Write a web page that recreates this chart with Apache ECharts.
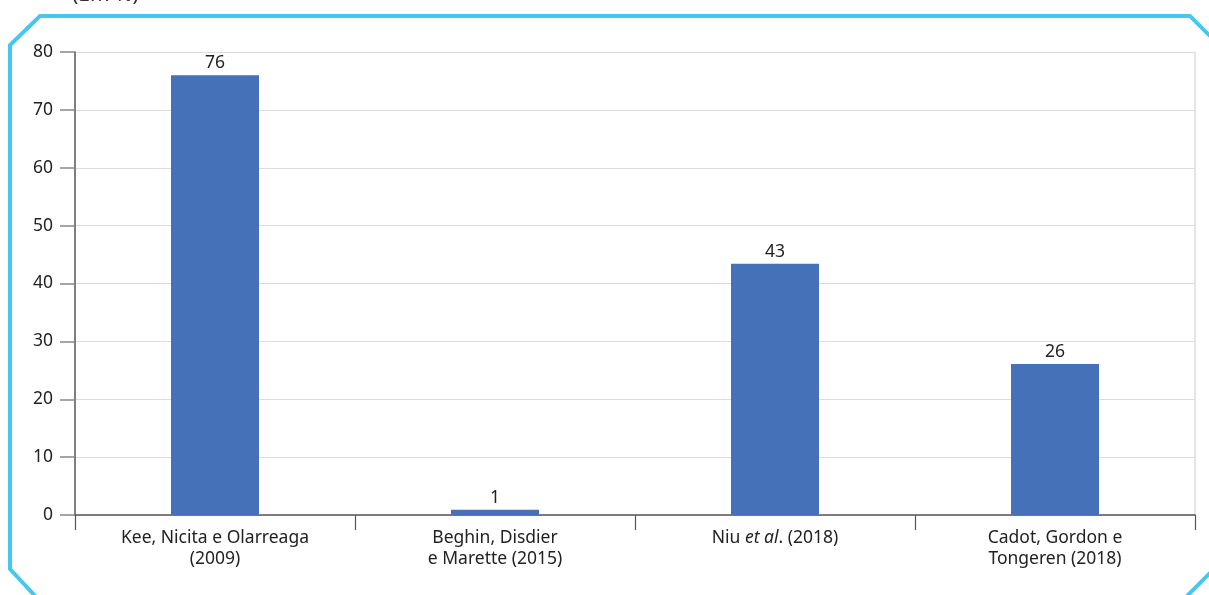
<!DOCTYPE html>
<html><head><meta charset="utf-8">
<script src="https://cdn.jsdelivr.net/npm/echarts@6/dist/echarts.min.js"></script>
<style>html,body{margin:0;padding:0;background:#fff}#c{width:1209px;height:595px}</style>
</head><body><div id="c"></div>
<script>
const categories = ["Kee, Nicita e Olarreaga\n(2009)", "Beghin, Disdier\ne Marette (2015)", "Niu {i|et al}. (2018)", "Cadot, Gordon e\nTongeren (2018)"];
const values = [76, 0.9, 43.4, 26.1];
const yTicks = [0, 10, 20, 30, 40, 50, 60, 70, 80];
const unitLabel = "(Em %)";

const font = "'Noto Sans', 'Open Sans', sans-serif";
const chart = echarts.init(document.getElementById('c'), null, {renderer: 'canvas'});
chart.setOption({
  animation: false,
  textStyle: {fontFamily: font},
  grid: {left: 75, right: 14, top: 52, bottom: 80, containLabel: false},
  xAxis: {
    type: 'category',
    data: categories,
    boundaryGap: true,
    axisLine: {show: true, lineStyle: {color: '#555', width: 1.5}},
    axisTick: {show: true, length: 15, interval: 0, lineStyle: {color: '#555', width: 1.2}},
    axisLabel: {
      interval: 0, margin: 13, color: '#222', fontSize: 17.5, lineHeight: 21, fontFamily: font,
      rich: {i: {fontStyle: 'italic', fontSize: 17.5, color: '#222', fontFamily: font}}
    }
  },
  yAxis: [{
    type: 'value', min: yTicks[0], max: yTicks[yTicks.length - 1], interval: 10,
    axisLine: {show: true, lineStyle: {color: '#555', width: 1.5}},
    axisTick: {show: true, length: 15, lineStyle: {color: '#888', width: 1.5}},
    axisLabel: {color: '#222', fontSize: 17.5, margin: 22, fontFamily: font},
    splitLine: {show: true, lineStyle: {color: '#dcdcdc', width: 1}}
  }, {
    type: 'value', min: 0, max: 80, position: 'right',
    axisLine: {show: true, lineStyle: {color: '#dcdcdc', width: 1.5}},
    axisTick: {show: false}, axisLabel: {show: false}, splitLine: {show: false}
  }],
  series: [{
    type: 'bar',
    data: values,
    barWidth: 88,
    itemStyle: {color: '#4571b8'},
    label: {
      show: true, position: 'top', distance: 3, color: '#222', fontSize: 17.5, fontFamily: font,
      formatter: p => Math.round(p.value)
    }
  }],
  graphic: [
    {
      type: 'polyline', silent: true,
      shape: {points: [[37, 598], [10, 569], [10, 45], [40, 16], [1190, 16], [1213, 39]]},
      style: {stroke: '#45c8f0', lineWidth: 4, fill: null}
    },
    {
      type: 'line', silent: true,
      shape: {x1: 1213, y1: 570, x2: 1185, y2: 598},
      style: {stroke: '#45c8f0', lineWidth: 4}
    },
    {
      type: 'text', left: 72, top: -15,
      style: {text: unitLabel, fontSize: 21, fill: '#333', fontFamily: font}
    }
  ]
});
</script></body></html>
